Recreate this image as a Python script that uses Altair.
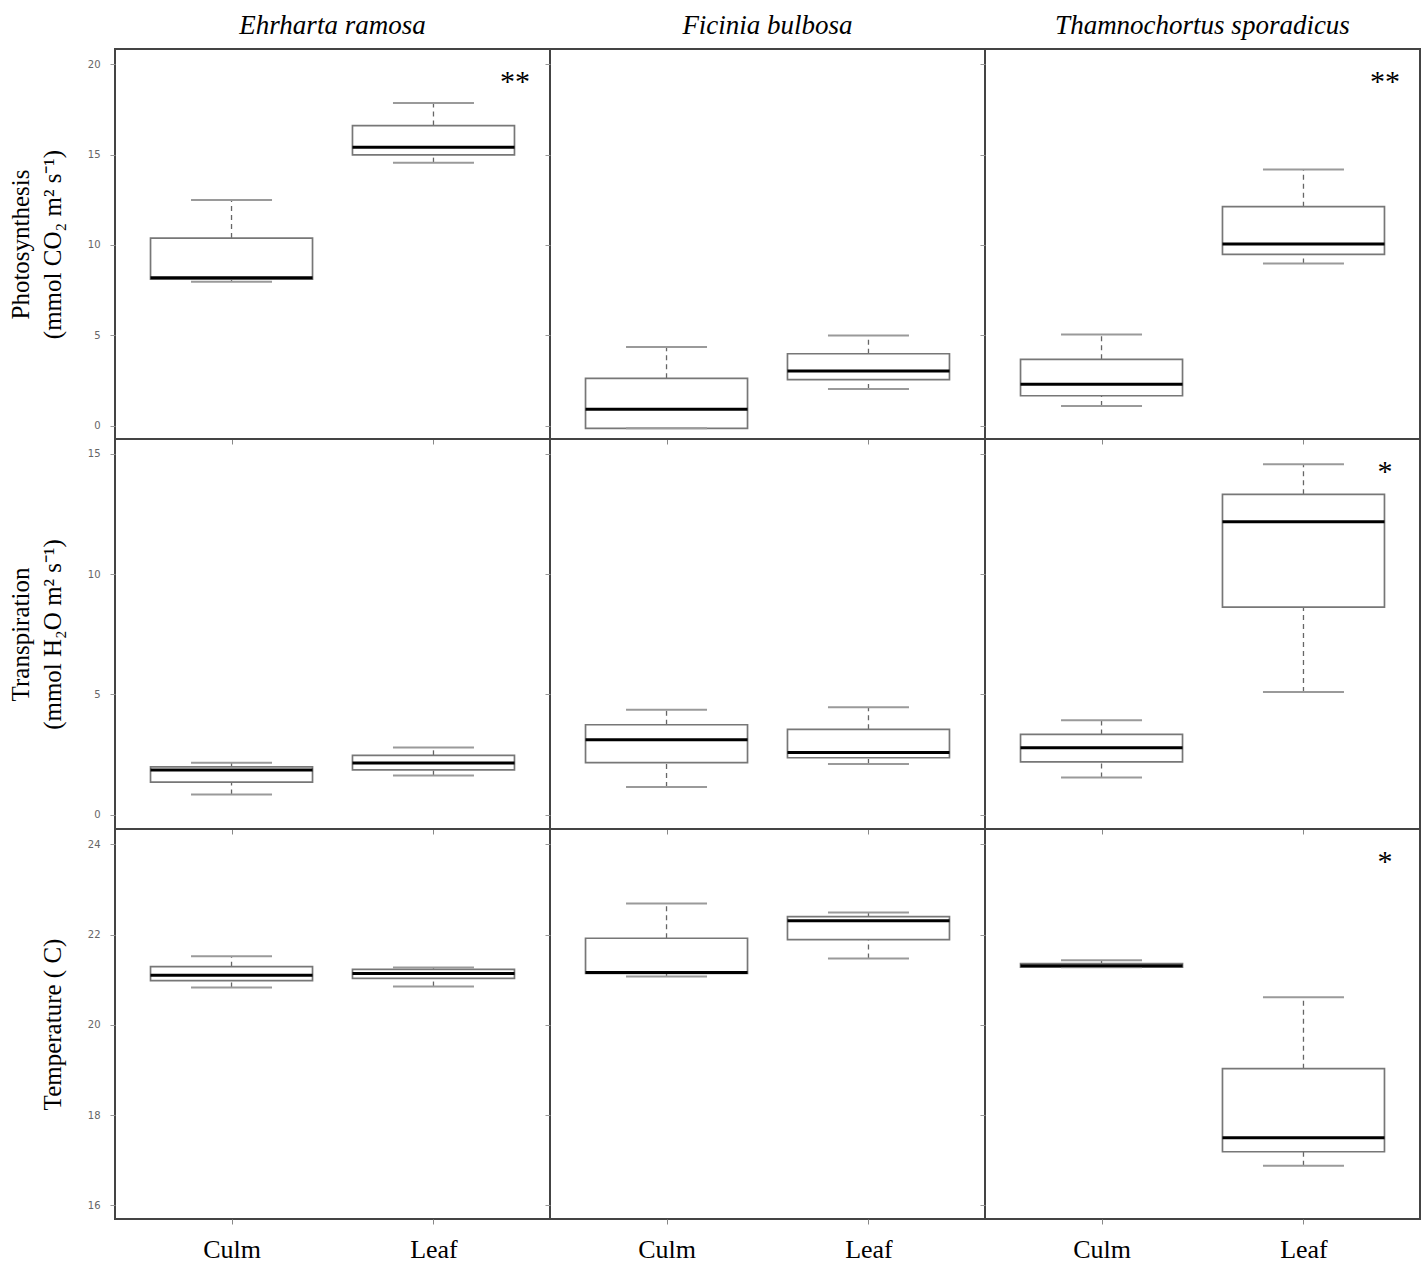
import altair as alt
import pandas as pd

species = ["Ehrharta ramosa", "Ficinia bulbosa", "Thamnochortus sporadicus"]
organs = ["Culm", "Leaf"]

# order of values: E.ramosa Culm, E.ramosa Leaf, F.bulbosa Culm, F.bulbosa Leaf, T.sporadicus Culm, T.sporadicus Leaf
photo_min = [7.97, 14.55, -0.13, 2.04, 1.10, 8.98]
photo_q1 = [8.11, 14.98, -0.13, 2.56, 1.67, 9.48]
photo_med = [8.19, 15.40, 0.92, 3.04, 2.30, 10.06]
photo_q3 = [10.38, 16.60, 2.63, 3.99, 3.68, 12.12]
photo_max = [12.49, 17.85, 4.36, 5.00, 5.06, 14.17]

trans_min = [0.84, 1.63, 1.15, 2.11, 1.55, 5.10]
trans_q1 = [1.36, 1.87, 2.17, 2.37, 2.20, 8.63]
trans_med = [1.86, 2.15, 3.12, 2.59, 2.78, 12.17]
trans_q3 = [1.99, 2.47, 3.74, 3.55, 3.34, 13.31]
trans_max = [2.16, 2.80, 4.36, 4.47, 3.93, 14.56]

temp_min = [20.83, 20.85, 21.07, 21.47, 21.28, 16.88]
temp_q1 = [20.98, 21.03, 21.14, 21.89, 21.28, 17.19]
temp_med = [21.10, 21.14, 21.16, 22.31, 21.31, 17.50]
temp_q3 = [21.29, 21.23, 21.92, 22.40, 21.36, 19.03]
temp_max = [21.52, 21.27, 22.69, 22.49, 21.43, 20.61]

photo_sig = ["**", "", "**"]
trans_sig = ["", "", "*"]
temp_sig = ["", "", "*"]

photo_ticks = [0, 5, 10, 15, 20]
trans_ticks = [0, 5, 10, 15]
temp_ticks = [16, 18, 20, 22, 24]

photo_domain = [-0.72, 20.83]
trans_domain = [-0.59, 15.61]
temp_domain = [15.70, 24.34]

photo_title = ["Photosynthesis", "(mmol CO₂ m² s⁻¹)"]
trans_title = ["Transpiration", "(mmol H₂O m² s⁻¹)"]
temp_title = [" ", "Temperature ( C)"]

rows = [
    (photo_min, photo_q1, photo_med, photo_q3, photo_max, photo_sig, photo_ticks, photo_domain, photo_title),
    (trans_min, trans_q1, trans_med, trans_q3, trans_max, trans_sig, trans_ticks, trans_domain, trans_title),
    (temp_min, temp_q1, temp_med, temp_q3, temp_max, temp_sig, temp_ticks, temp_domain, temp_title),
]

SERIF = "Liberation Serif"
PW, PH = 435, 390
BOXW = 162


def panel(r, c):
    mn, q1, md, q3, mx, sig, ticks, dom, ytitle = rows[r]
    i0 = 2 * c
    df = pd.DataFrame({
        "organ": organs,
        "mn": mn[i0:i0 + 2],
        "q1": q1[i0:i0 + 2],
        "md": md[i0:i0 + 2],
        "q3": q3[i0:i0 + 2],
        "mx": mx[i0:i0 + 2],
    })
    bottom = r == 2
    left = c == 0
    xaxis = alt.Axis(
        title=None, labels=bottom, ticks=True, tickSize=5, tickColor="#888",
        domain=False, grid=False, labelFont=SERIF, labelFontSize=26,
        labelColor="black", labelPadding=12, labelAngle=0,
    )
    if left:
        yaxis = alt.Axis(
            values=ticks, title=ytitle, tickSize=5, tickColor="#999", domain=False,
            grid=False, labelFont="DejaVu Sans", labelFontSize=10, labelColor="#666",
            labelPadding=10, titleFont=SERIF, titleFontSize=25, titleFontWeight="normal",
            titleColor="black", titleLineHeight=32, titlePadding=22,
        )
    else:
        yaxis = alt.Axis(values=ticks, title=None, labels=False, tickSize=5,
                         tickColor="#999", domain=False, grid=False)
    xenc = alt.X("organ:N", scale=alt.Scale(type="point", domain=organs, padding=0.577),
                 axis=xaxis)
    yscale = alt.Scale(domain=dom, nice=False, zero=False)
    base = alt.Chart(df)
    lower = base.mark_rule(color="#666", strokeWidth=1.3, strokeDash=[5, 4]).encode(
        x=xenc, y=alt.Y("mn:Q", scale=yscale, axis=yaxis), y2="q1:Q")
    upper = base.mark_rule(color="#666", strokeWidth=1.3, strokeDash=[5, 4]).encode(
        x=xenc, y=alt.Y("q3:Q", scale=yscale), y2="mx:Q")
    box = base.mark_bar(size=BOXW, fill="white", stroke="#777", strokeWidth=1.7).encode(
        x=xenc, y=alt.Y("q1:Q", scale=yscale), y2="q3:Q")
    cap_lo = base.mark_tick(size=BOXW / 2, thickness=2, color="#9a9a9a", opacity=1).encode(
        x=xenc, y=alt.Y("mn:Q", scale=yscale))
    cap_hi = base.mark_tick(size=BOXW / 2, thickness=2, color="#9a9a9a", opacity=1).encode(
        x=xenc, y=alt.Y("mx:Q", scale=yscale))
    med = base.mark_tick(size=BOXW, thickness=3, color="black", opacity=1).encode(
        x=xenc, y=alt.Y("md:Q", scale=yscale))
    layers = [lower, upper, box, cap_lo, cap_hi, med]
    if sig[c]:
        txt = alt.Chart(pd.DataFrame({"sig": [sig[c]]})).mark_text(
            font=SERIF, fontSize=30, align="center", baseline="top", color="black"
        ).encode(x=alt.value(400), y=alt.value(18), text="sig:N")
        layers.append(txt)
    ch = alt.layer(*layers).properties(width=PW, height=PH)
    if r == 0:
        ch = ch.properties(title=alt.Title(
            species[c], font=SERIF, fontStyle="italic", fontSize=27,
            fontWeight="normal", offset=9, anchor="middle", color="black"))
    return ch


charts = [panel(r, c) for r in range(3) for c in range(3)]

chart = alt.concat(*charts, columns=3, spacing=0, bounds="flush").properties(
    padding={"left": 7, "top": 11, "right": 0, "bottom": 0},
    background="white",
).configure_view(stroke="#444", strokeWidth=2)

chart.save("out.html", embed_options={"renderer": "svg", "actions": False})
